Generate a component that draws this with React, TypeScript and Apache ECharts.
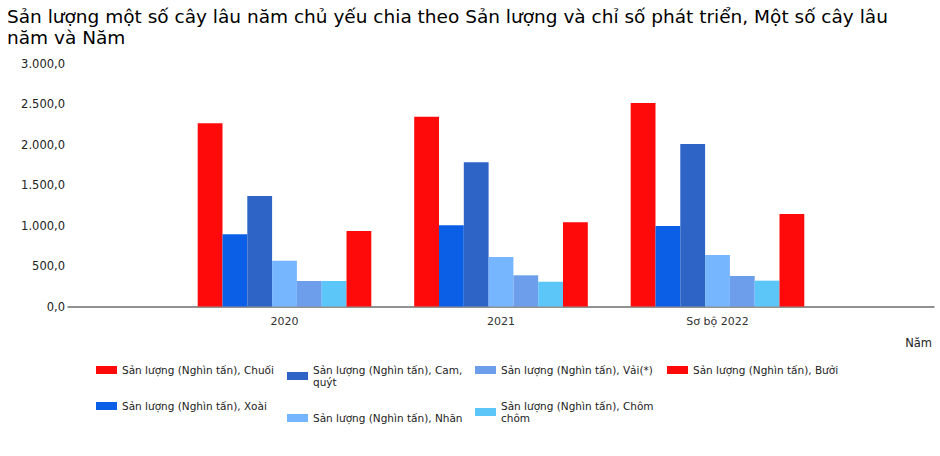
import React, { useEffect, useRef } from "react";
import * as echarts from "echarts";

const titleText =
  "Sản lượng một số cây lâu năm chủ yếu chia theo Sản lượng và chỉ số phát triển, Một số cây lâu\nnăm và Năm";
const categories = ["2020", "2021", "Sơ bộ 2022"];
const yTicks = [0, 500, 1000, 1500, 2000, 2500, 3000];
const seriesNames = [
  "Sản lượng (Nghìn tấn), Chuối",
  "Sản lượng (Nghìn tấn), Xoài",
  "Sản lượng (Nghìn tấn), Cam, quýt",
  "Sản lượng (Nghìn tấn), Nhãn",
  "Sản lượng (Nghìn tấn), Vải(*)",
  "Sản lượng (Nghìn tấn), Chôm chôm",
  "Sản lượng (Nghìn tấn), Bưởi",
];
const legendLabels = [
  "Sản lượng (Nghìn tấn), Chuối",
  "Sản lượng (Nghìn tấn), Xoài",
  "Sản lượng (Nghìn tấn), Cam,\nquýt",
  "Sản lượng (Nghìn tấn), Nhãn",
  "Sản lượng (Nghìn tấn), Vải(*)",
  "Sản lượng (Nghìn tấn), Chôm\nchôm",
  "Sản lượng (Nghìn tấn), Bưởi",
];
const chuoi = [2262, 2343, 2512];
const xoai = [891, 1002, 994];
const camQuyt = [1364, 1780, 2006];
const nhan = [565, 611, 636];
const vai = [315, 385, 377];
const chomChom = [315, 306, 319];
const buoi = [932, 1039, 1142];
const seriesValues = [chuoi, xoai, camQuyt, nhan, vai, chomChom, buoi];
const colors = ["#FF0A0A", "#0B5FE6", "#2D64C6", "#76B5FF", "#6C9EEC", "#5CC6F8", "#FF0A0A"];

const FONT = "DejaVu Sans";

function fmt(v: number): string {
  const s = v.toFixed(1);
  const [i, d] = s.split(".");
  return i.replace(/\B(?=(\d{3})+(?!\d))/g, ".") + "," + d;
}

export default function App() {
  const ref = useRef<HTMLDivElement>(null);
  useEffect(() => {
    if (!ref.current) return;
    const chart = echarts.init(ref.current, null, { renderer: "svg" });
    const paddedCats = ["", ...categories, ""];
    const legendCols = [[0, 1], [2, 3], [4, 5], [6]];
    const colX = [96, 287, 475, 667];
    chart.setOption({
      animation: false,
      title: {
        text: titleText,
        left: 2,
        top: 1,
        textStyle: {
          fontFamily: FONT,
          fontSize: 18.5,
          fontWeight: "normal",
          color: "#000",
          lineHeight: 21,
        },
      },
      legend: legendCols.map((idxs, c) => ({
        orient: "vertical",
        left: colX[c],
        top: 364,
        itemGap: 24,
        itemWidth: 21,
        itemHeight: 8,
        itemStyle: { borderWidth: 0 },
        icon: "rect",
        data: idxs.map((i) => seriesNames[i]),
        formatter: (name: string) => legendLabels[seriesNames.indexOf(name)],
        textStyle: {
          fontFamily: FONT,
          fontSize: 10.5,
          color: "#222",
          lineHeight: 12,
        },
        selectedMode: false,
        padding: 0,
      })),
      grid: { left: 68, right: 6, top: 63.5, bottom: 149.5, containLabel: false },
      xAxis: {
        type: "category",
        data: paddedCats,
        boundaryGap: false,
        axisLine: { lineStyle: { color: "#6e6e6e", width: 1.5 } },
        axisTick: { show: false },
        axisLabel: { fontFamily: FONT, fontSize: 11, color: "#333", margin: 9, interval: 0 },
        name: "Năm",
        nameLocation: "end",
        nameGap: -2,
        nameTextStyle: {
          fontFamily: FONT,
          fontSize: 11.5,
          color: "#222",
          align: "right",
          verticalAlign: "top",
          padding: [30, 0, 0, 0],
        },
      },
      yAxis: {
        type: "value",
        min: yTicks[0],
        max: yTicks[yTicks.length - 1],
        interval: 500,
        axisLine: { show: false },
        axisTick: { show: false },
        splitLine: { show: false },
        axisLabel: {
          fontFamily: FONT,
          fontSize: 11.5,
          color: "#222",
          margin: 3,
          formatter: (v: number) => fmt(v),
        },
      },
      series: seriesNames.map((name, i) => ({
        name,
        type: "bar",
        barWidth: 24.8,
        barGap: "0%",
        itemStyle: { color: colors[i] },
        data: [null, ...seriesValues[i], null],
      })),
    });
    return () => chart.dispose();
  }, []);
  return (
    <div
      ref={ref}
      style={{ position: "absolute", left: 0, top: 0, width: 940, height: 456 }}
    />
  );
}
